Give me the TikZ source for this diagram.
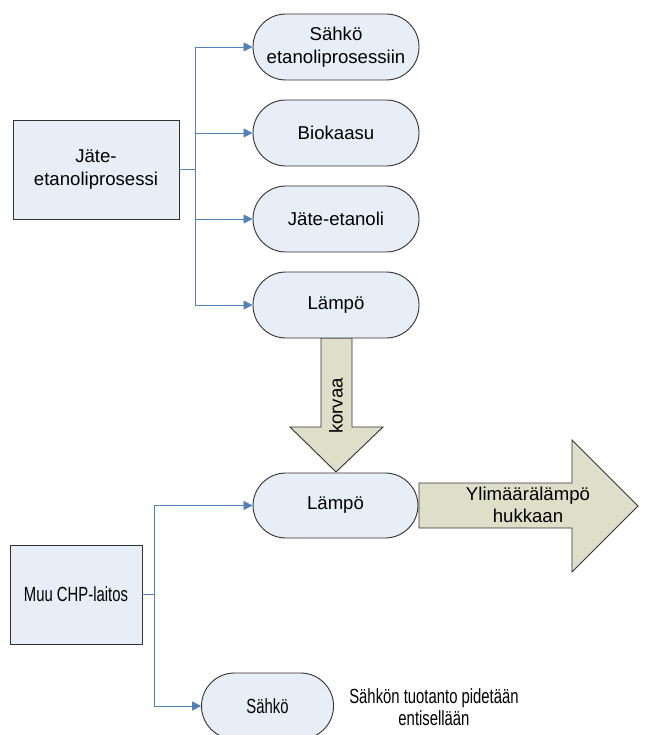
\documentclass[tikz,border=0pt]{standalone}
\usepackage{fontspec}
\setmainfont{Liberation Sans}
\newfontfamily\narrowsans[FakeStretch=0.906]{Liberation Sans}
\usetikzlibrary{arrows.meta}
\definecolor{boxfill}{RGB}{232,238,247}
\definecolor{arrowfill}{RGB}{221,223,200}
\definecolor{linkblue}{RGB}{79,129,189}
\definecolor{edge}{RGB}{50,50,50}
\begin{document}
\begin{tikzpicture}[x=1pt,y=-1pt,
  every node/.style={font=\fontsize{18.6}{22.5}\selectfont, align=center, inner sep=0pt},
  narrowtext/.style={font=\narrowsans\fontsize{20.5}{22.5}\selectfont},
  procbox/.style={draw=edge, line width=0.9pt, fill=boxfill, minimum width=166pt, minimum height=99pt},
  pill/.style={draw=edge, line width=0.9pt, fill=boxfill, rounded corners=32.9pt, minimum width=166pt, minimum height=66pt},
  bigarrow/.style={draw=edge, line width=0.9pt, fill=arrowfill, line join=miter},
  conn/.style={draw=linkblue, line width=0.8pt},
  flow/.style={conn, -{Triangle[length=9pt,width=9pt]}}]
\useasboundingbox (0,0) rectangle (657,735);
\clip (0,0) rectangle (657,735);

% wide arrows
\draw[bigarrow] (321,338) -- (321,427) -- (290,427) -- (336,472) -- (383,427) -- (352,427) -- (352,338) -- cycle;
\node[rotate=90] (korvaa) at (336,406) {korvaa};
\draw[bigarrow] (419,483) -- (572,483) -- (572,440) -- (638,506) -- (572,572) -- (572,528) -- (419,528) -- cycle;
\node (hukka) at (528,505) {Ylimäärälämpö\\hukkaan};

% upper process and its outputs
\node[procbox] (jate) at (96,169.5) {Jäte-\\etanoliprosessi};
\node[pill] (sahko1) at (336,47) {Sähkö\\etanoliprosessiin};
\node[pill] (bio) at (336,133) {Biokaasu};
\node[pill] (etan) at (336,219) {Jäte-etanoli};
\node[pill] (lampo1) at (336,305) {Lämpö};

\coordinate (t1) at (195,169.5);
\draw[conn] (jate.east) -- (t1);
\draw[flow] (t1) |- (sahko1.west);
\draw[flow] (t1) |- (bio.west);
\draw[flow] (t1) |- (etan.west);
\draw[flow] (t1) |- (lampo1.west);

% lower plant, drawn narrower
\node[pill, minimum width=165pt, minimum height=65pt] (lampo2) at (335.5,505.5) {Lämpö};
\begin{scope}[xscale=0.8, transform shape]
  \node[procbox, narrowtext, minimum width=165pt] (chp) at (95,594.5) {Muu CHP-laitos};
  \node[pill, narrowtext, minimum width=165pt] (sahko2) at (334.4,706) {Sähkö};
  \node[narrowtext] (note) at (542.5,707) {Sähkön tuotanto pidetään\\entisellään};
\end{scope}

\coordinate (t2) at (154,594.5);
\draw[conn] (chp.east) -- (t2);
\draw[flow] (t2) |- (lampo2.west);
\draw[flow] (t2) |- (sahko2.west);
\end{tikzpicture}
\end{document}
